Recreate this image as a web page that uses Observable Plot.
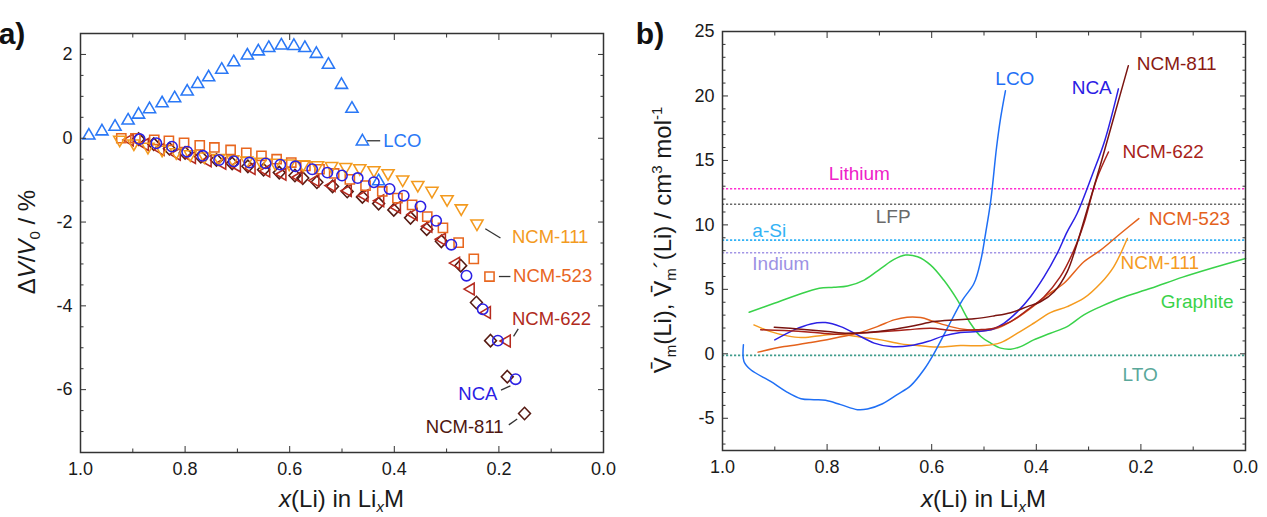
<!DOCTYPE html>
<html><head><meta charset="utf-8">
<script src="https://cdn.jsdelivr.net/npm/d3@7"></script>
<script src="https://cdn.jsdelivr.net/npm/@observablehq/plot@0.6"></script>
<style>
body{margin:0;background:#fff;}
#wrap{position:relative;width:1267px;height:517px;overflow:hidden;background:#fff;}
#pa{position:absolute;left:0;top:0;}
#pb{position:absolute;left:640px;top:0;}
</style></head><body><div id="wrap"><div id="pa"></div><div id="pb"></div></div>
<script>
const FONT = "'Liberation Sans', Arial, Helvetica, sans-serif";

// ---------- Panel a data: ΔV/V0 (%) vs x(Li) ----------
const aLCO = [[0.984,0.08],[0.959,0.18],[0.934,0.29],[0.909,0.44],[0.889,0.58],[0.868,0.71],[0.844,0.85],[0.820,0.97],[0.796,1.13],[0.776,1.31],[0.755,1.47],[0.730,1.65],[0.707,1.83],[0.681,1.99],[0.660,2.09],[0.640,2.17],[0.616,2.23],[0.592,2.22],[0.571,2.17],[0.549,2.03],[0.526,1.77],[0.501,1.29],[0.481,0.72],[0.461,-0.06],[0.430,-1.01]];
const aNCM111 = [[0.925,-0.05],[0.898,-0.14],[0.871,-0.22],[0.844,-0.29],[0.817,-0.35],[0.790,-0.40],[0.763,-0.45],[0.736,-0.49],[0.709,-0.52],[0.682,-0.55],[0.655,-0.58],[0.628,-0.60],[0.601,-0.62],[0.574,-0.64],[0.547,-0.66],[0.520,-0.68],[0.493,-0.70],[0.466,-0.73],[0.439,-0.78],[0.412,-0.85],[0.384,-1.00],[0.355,-1.13],[0.328,-1.27],[0.299,-1.47],[0.272,-1.69],[0.242,-2.05]];
const aNCM523 = [[0.922,0.00],[0.895,0.00],[0.859,-0.04],[0.831,-0.06],[0.802,-0.11],[0.772,-0.17],[0.744,-0.22],[0.713,-0.28],[0.683,-0.35],[0.654,-0.42],[0.625,-0.50],[0.597,-0.58],[0.570,-0.66],[0.543,-0.74],[0.515,-0.84],[0.485,-0.98],[0.455,-1.13],[0.423,-1.27],[0.394,-1.43],[0.366,-1.59],[0.337,-1.87],[0.307,-2.14],[0.277,-2.49],[0.248,-2.88],[0.218,-3.30]];
const aNCA = [[0.887,-0.02],[0.855,-0.12],[0.825,-0.20],[0.796,-0.32],[0.766,-0.42],[0.735,-0.52],[0.707,-0.55],[0.677,-0.58],[0.646,-0.60],[0.618,-0.63],[0.589,-0.67],[0.557,-0.74],[0.528,-0.82],[0.500,-0.89],[0.470,-0.95],[0.439,-1.05],[0.409,-1.21],[0.382,-1.37],[0.350,-1.63],[0.320,-1.97],[0.291,-2.54],[0.262,-3.28],[0.231,-4.08],[0.202,-4.83],[0.168,-5.75]];
const aNCM622 = [[0.907,-0.04],[0.878,-0.15],[0.848,-0.27],[0.817,-0.38],[0.788,-0.46],[0.758,-0.54],[0.730,-0.60],[0.702,-0.66],[0.674,-0.72],[0.646,-0.78],[0.615,-0.86],[0.584,-0.93],[0.552,-1.01],[0.521,-1.13],[0.490,-1.25],[0.458,-1.37],[0.428,-1.49],[0.396,-1.65],[0.364,-1.82],[0.336,-2.10],[0.310,-2.41],[0.283,-2.98],[0.255,-3.60],[0.224,-4.16],[0.186,-4.84]];
const aNCM811 = [[0.889,-0.02],[0.860,-0.14],[0.830,-0.25],[0.800,-0.35],[0.770,-0.44],[0.740,-0.52],[0.710,-0.60],[0.680,-0.67],[0.650,-0.75],[0.620,-0.82],[0.590,-0.89],[0.575,-0.95],[0.548,-1.05],[0.518,-1.15],[0.490,-1.27],[0.461,-1.40],[0.430,-1.56],[0.401,-1.71],[0.369,-1.90],[0.338,-2.17],[0.310,-2.46],[0.273,-3.04],[0.243,-3.92],[0.216,-4.83],[0.184,-5.69],[0.151,-6.57]];

const aLabels = [
  {x:0.421, y:-0.06, text:"LCO", color:"#2a78f6", anchor:"start"},
  {x:0.175, y:-2.37, text:"NCM-111", color:"#f39a1e", anchor:"start"},
  {x:0.173, y:-3.30, text:"NCM-523", color:"#e8651e", anchor:"start"},
  {x:0.175, y:-4.32, text:"NCM-622", color:"#b02a1c", anchor:"start"},
  {x:0.203, y:-6.10, text:"NCA", color:"#2b20e4", anchor:"end"},
  {x:0.191, y:-6.90, text:"NCM-811", color:"#4e1610", anchor:"end"}
];
const aConnectors = [
  {x1:0.452,y1:-0.06,x2:0.427,y2:-0.06},
  {x1:0.226,y1:-2.16,x2:0.197,y2:-2.38},
  {x1:0.200,y1:-3.30,x2:0.178,y2:-3.30},
  {x1:0.172,y1:-4.73,x2:0.163,y2:-4.55},
  {x1:0.196,y1:-6.01,x2:0.178,y2:-5.91},
  {x1:0.181,y1:-6.84,x2:0.165,y2:-6.70}
];

// ---------- Panel b data: partial molar volume (cm3/mol) ----------
const bLCO = [[0.960,0.70],[0.959,-0.59],[0.946,-1.24],[0.908,-2.14],[0.879,-2.91],[0.850,-3.48],[0.825,-3.56],[0.803,-3.61],[0.774,-3.94],[0.742,-4.33],[0.723,-4.28],[0.694,-3.87],[0.666,-3.17],[0.640,-2.47],[0.615,-1.24],[0.596,0.0],[0.570,1.99],[0.541,4.18],[0.519,5.47],[0.506,7.27],[0.497,9.33],[0.487,11.9],[0.476,16.0],[0.468,18.35],[0.459,20.4]];
const bGraphite = [[0.949,3.22],[0.901,3.92],[0.857,4.56],[0.815,5.08],[0.787,5.16],[0.761,5.26],[0.729,5.72],[0.697,6.63],[0.672,7.32],[0.650,7.66],[0.627,7.53],[0.602,6.88],[0.577,5.72],[0.551,4.18],[0.526,2.37],[0.506,1.34],[0.487,0.83],[0.468,0.44],[0.449,0.36],[0.430,0.56],[0.405,1.08],[0.373,1.60],[0.341,2.11],[0.309,3.02],[0.277,3.66],[0.239,4.31],[0.181,5.08],[0.120,5.95],[0.060,6.70],[0.0,7.40]];
const bNCM111 = [[0.940,2.24],[0.908,1.72],[0.876,1.39],[0.850,1.26],[0.818,1.39],[0.780,1.52],[0.742,1.34],[0.697,1.08],[0.659,0.77],[0.621,0.62],[0.583,0.52],[0.545,0.64],[0.500,0.64],[0.468,0.87],[0.436,1.60],[0.405,2.37],[0.373,3.19],[0.341,3.66],[0.309,4.31],[0.277,5.47],[0.252,6.75],[0.226,8.95]];
const bNCM523 = [[0.932,0.13],[0.882,0.56],[0.831,0.87],[0.787,1.21],[0.742,1.60],[0.704,2.11],[0.672,2.63],[0.647,2.84],[0.621,2.81],[0.596,2.50],[0.564,2.11],[0.532,1.86],[0.500,1.78],[0.474,1.99],[0.443,2.63],[0.411,3.53],[0.379,4.56],[0.347,5.47],[0.309,7.14],[0.277,8.04],[0.239,9.33],[0.204,10.49]];
const bNCA = [[0.900,1.08],[0.863,1.86],[0.831,2.32],[0.803,2.42],[0.774,2.11],[0.742,1.47],[0.710,0.83],[0.678,0.56],[0.640,0.64],[0.608,0.95],[0.577,1.39],[0.545,1.65],[0.513,1.73],[0.487,1.86],[0.462,2.37],[0.436,3.27],[0.411,4.43],[0.385,5.98],[0.360,7.79],[0.341,9.46],[0.322,10.88],[0.292,13.98],[0.269,16.55],[0.243,20.55]];
const bNCM622 = [[0.927,1.86],[0.882,1.80],[0.831,1.68],[0.787,1.52],[0.742,1.60],[0.691,1.73],[0.647,1.86],[0.602,1.99],[0.557,1.80],[0.513,1.86],[0.481,1.99],[0.449,2.50],[0.417,3.40],[0.385,4.43],[0.354,5.98],[0.328,8.04],[0.309,10.1],[0.285,13.5],[0.262,15.65]];
const bNCM811 = [[0.901,2.06],[0.850,1.91],[0.799,1.73],[0.761,1.60],[0.723,1.65],[0.678,1.86],[0.634,2.17],[0.596,2.50],[0.557,2.63],[0.519,2.71],[0.481,2.94],[0.449,3.19],[0.417,3.66],[0.392,4.04],[0.366,4.82],[0.341,6.36],[0.322,8.56],[0.303,11.14],[0.275,15.0],[0.250,18.6],[0.224,22.35]];

const refNames  = ["Lithium","LFP","a-Si","Indium","LTO"];
const refValues = [12.8, 11.6, 8.82, 7.84, -0.12];
const refColors = ["#ff2fd2","#6a6a6a","#33b2f5","#a396e6","#3f9c8c"];

const bLabels = [
  {x:0.441, y:21.35, text:"LCO", color:"#1f6ff5", anchor:"middle"},
  {x:0.294, y:20.6,  text:"NCA", color:"#2b20e4", anchor:"middle"},
  {x:0.208, y:22.5,  text:"NCM-811", color:"#8a1a12", anchor:"start"},
  {x:0.235, y:15.65, text:"NCM-622", color:"#a8231a", anchor:"start"},
  {x:0.185, y:10.44, text:"NCM-523", color:"#e4621c", anchor:"start"},
  {x:0.239, y:7.04,  text:"NCM-111", color:"#f59b1f", anchor:"start"},
  {x:0.162, y:4.05,  text:"Graphite", color:"#39d24a", anchor:"start"},
  {x:0.235, y:-1.62, text:"LTO", color:"#5aa89a", anchor:"start"},
  {x:0.797, y:13.92, text:"Lithium", color:"#ee22c8", anchor:"start"},
  {x:0.707, y:10.6,  text:"LFP", color:"#6a6a6a", anchor:"start"},
  {x:0.943, y:9.54,  text:"a-Si", color:"#33b2f5", anchor:"start"},
  {x:0.943, y:6.94,  text:"Indium", color:"#9d92e4", anchor:"start"}
];

// ---------- ticks ----------
const xMajor = [0, 0.2, 0.4, 0.6, 0.8, 1.0];
const xMinor = [0.1, 0.3, 0.5, 0.7, 0.9];
const aYMajor = [-6, -4, -2, 0, 2];
const aYMinor = [-7, -6.5, -5.5, -5, -4.5, -3.5, -3, -2.5, -1.5, -1, -0.5, 0.5, 1, 1.5];
const bYMajor = [-5, 0, 5, 10, 15, 20, 25];
const bYMinor = [-7,-6,-4,-3,-2,-1,1,2,3,4,6,7,8,9,11,12,13,14,16,17,18,19,21,22,23,24];

// ---------- helpers ----------
const toRows = (arr) => arr.map(([x, y]) => ({x, y}));
const shape = (pts) => ({draw(ctx, size) {
  const r = Math.sqrt(size / Math.PI);
  ctx.moveTo(pts[0][0] * r, pts[0][1] * r);
  for (let i = 1; i < pts.length; ++i) ctx.lineTo(pts[i][0] * r, pts[i][1] * r);
  ctx.closePath();
}});
const triUp = shape([[0,-1.1],[1.05,0.72],[-1.05,0.72]]);
const triDown = shape([[0,1.1],[1.05,-0.72],[-1.05,-0.72]]);
const triLeft = shape([[-1.1,0],[0.72,-1.05],[0.72,1.05]]);
const square = shape([[-0.85,-0.85],[0.85,-0.85],[0.85,0.85],[-0.85,0.85]]);
const diamond = shape([[0,-1.15],[1.1,0],[0,1.15],[-1.1,0]]);

function axisMarks(yMajor, yMinor) {
  const tc = "#333";
  return [
    Plot.axisX(xMajor, {anchor:"bottom", tickSize:0, tickPadding:10, tickFormat:d => d.toFixed(1), label:null, fill:"#1a1a1a"}),
    Plot.axisX(xMajor, {anchor:"bottom", tickSize:-6, fill:"none", stroke:tc, label:null}),
    Plot.axisX(xMinor, {anchor:"bottom", tickSize:-3.5, fill:"none", stroke:tc, label:null}),
    Plot.axisX(xMajor, {anchor:"top", tickSize:-6, fill:"none", stroke:tc, label:null}),
    Plot.axisX(xMinor, {anchor:"top", tickSize:-3.5, fill:"none", stroke:tc, label:null}),
    Plot.axisY(yMajor, {anchor:"left", tickSize:0, tickPadding:8, tickFormat:d => String(d), label:null, fill:"#1a1a1a"}),
    Plot.axisY(yMajor, {anchor:"left", tickSize:-6, fill:"none", stroke:tc, label:null}),
    Plot.axisY(yMinor, {anchor:"left", tickSize:-3.5, fill:"none", stroke:tc, label:null}),
    Plot.axisY(yMajor, {anchor:"right", tickSize:-6, fill:"none", stroke:tc, label:null}),
    Plot.axisY(yMinor, {anchor:"right", tickSize:-3.5, fill:"none", stroke:tc, label:null})
  ];
}

function textMarks(labels, fontSize) {
  return ["start","middle","end"].map(a => Plot.text(labels.filter(d => d.anchor === a), {
    x:"x", y:"y", text:"text", fill:d => d.color, textAnchor:a, fontSize, fontFamily:FONT
  }));
}

const dotOpts = (sym, color, r) => ({x:"x", y:"y", symbol:sym, r, stroke:color, strokeWidth:1.55, fill:"none"});

// ---------- panel a ----------
const plotA = Plot.plot({
  width:640, height:517,
  marginLeft:80, marginRight:37, marginTop:33, marginBottom:65,
  x:{domain:[1, 0]}, y:{domain:[-7.5, 2.5]},
  color:{type:"identity"},
  style:{fontFamily:FONT, fontSize:"18px", color:"#1a1a1a", background:"transparent", overflow:"visible"},
  marks:[
    Plot.dot(toRows(aNCM811), dotOpts(diamond, "#561a12", 5.4)),
    Plot.dot(toRows(aNCM622), dotOpts(triLeft, "#b52a1e", 5.6)),
    Plot.dot(toRows(aNCM523), dotOpts(square, "#e8671f", 5.4)),
    Plot.dot(toRows(aNCM111), dotOpts(triDown, "#f39a1e", 5.8)),
    Plot.dot(toRows(aLCO), dotOpts(triUp, "#2a78f6", 5.8)),
    Plot.dot(toRows(aNCA), dotOpts("circle", "#2b20e4", 5.2)),
    Plot.link(aConnectors, {x1:"x1", y1:"y1", x2:"x2", y2:"y2", stroke:"#333", strokeWidth:1.3}),
    ...textMarks(aLabels, 18.5),
    ...axisMarks(aYMajor, aYMinor),
    Plot.frame({stroke:"#333", strokeWidth:1.5})
  ]
});
document.getElementById("pa").appendChild(plotA);

// ---------- panel b ----------
const lineOpts = (color) => ({x:"x", y:"y", stroke:color, strokeWidth:1.5, curve:"catmull-rom"});
const plotB = Plot.plot({
  width:627, height:517,
  marginLeft:82, marginRight:22, marginTop:31, marginBottom:67,
  x:{domain:[1, 0]}, y:{domain:[-7.5, 25]},
  color:{type:"identity"},
  style:{fontFamily:FONT, fontSize:"18px", color:"#1a1a1a", background:"transparent", overflow:"visible"},
  marks:[
    Plot.ruleY(refValues.map((v, i) => ({v, c:refColors[i], n:refNames[i]})), {y:"v", stroke:"c", strokeWidth:1.6, strokeDasharray:"2.2,1.8"}),
    Plot.line(toRows(bGraphite), lineOpts("#39d24a")),
    Plot.line(toRows(bNCM111), lineOpts("#f59b1f")),
    Plot.line(toRows(bNCM523), lineOpts("#e4621c")),
    Plot.line(toRows(bLCO), lineOpts("#1f6ff5")),
    Plot.line(toRows(bNCA), lineOpts("#2b20e4")),
    Plot.line(toRows(bNCM622), lineOpts("#a8231a")),
    Plot.line(toRows(bNCM811), lineOpts("#7a1410")),
    ...textMarks(bLabels, 19),
    ...axisMarks(bYMajor, bYMinor),
    Plot.frame({stroke:"#333", strokeWidth:1.5})
  ]
});
document.getElementById("pb").appendChild(plotB);

// ---------- titles (real text) ----------
function xTitle(svg, cx) {
  const t = d3.select(svg).append("text").attr("x", cx).attr("y", 507)
    .attr("text-anchor","middle").attr("font-size",24).attr("fill","#1a1a1a").attr("font-family",FONT);
  t.append("tspan").attr("font-style","italic").text("x");
  t.append("tspan").text("(Li) in Li");
  t.append("tspan").attr("font-style","italic").attr("font-size",15).attr("dy",5).text("x");
  t.append("tspan").attr("dy",-5).text("M");
}
function panelLabel(svg, x, s) {
  d3.select(svg).append("text").attr("x", x).attr("y", 44).attr("font-size", 30).attr("font-weight","bold")
    .attr("fill","#111").attr("font-family",FONT).text(s);
}
xTitle(plotA, 341.5);
xTitle(plotB, 343.5);
panelLabel(plotA, 12, "a)");
panelLabel(plotB, 10, "b)");

{
  const t = d3.select(plotA).append("text").attr("transform","translate(35,242) rotate(-90)")
    .attr("text-anchor","middle").attr("font-size",24).attr("fill","#1a1a1a").attr("font-family",FONT);
  t.append("tspan").text("Δ");
  t.append("tspan").attr("font-style","italic").text("V");
  t.append("tspan").text("/");
  t.append("tspan").attr("font-style","italic").text("V");
  t.append("tspan").attr("font-size",15).attr("dy",5).text("0");
  t.append("tspan").attr("dy",-5).text(" / %");
}
{
  const t = d3.select(plotB).append("text").attr("transform","translate(31,240) rotate(-90)")
    .attr("text-anchor","middle").attr("font-size",24).attr("fill","#1a1a1a").attr("font-family",FONT);
  t.append("tspan").text("V\u0304");
  t.append("tspan").attr("font-size",15).attr("dy",5).text("m");
  t.append("tspan").attr("dy",-5).text("(Li), V\u0304");
  t.append("tspan").attr("font-size",15).attr("dy",5).text("m");
  t.append("tspan").attr("dy",-5).text("\u00B4(Li) / cm");
  t.append("tspan").attr("font-size",15).attr("dy",-9).text("3");
  t.append("tspan").attr("dy",9).text(" mol");
  t.append("tspan").attr("font-size",15).attr("dy",-9).text("-1");
}
</script>
</body></html>
